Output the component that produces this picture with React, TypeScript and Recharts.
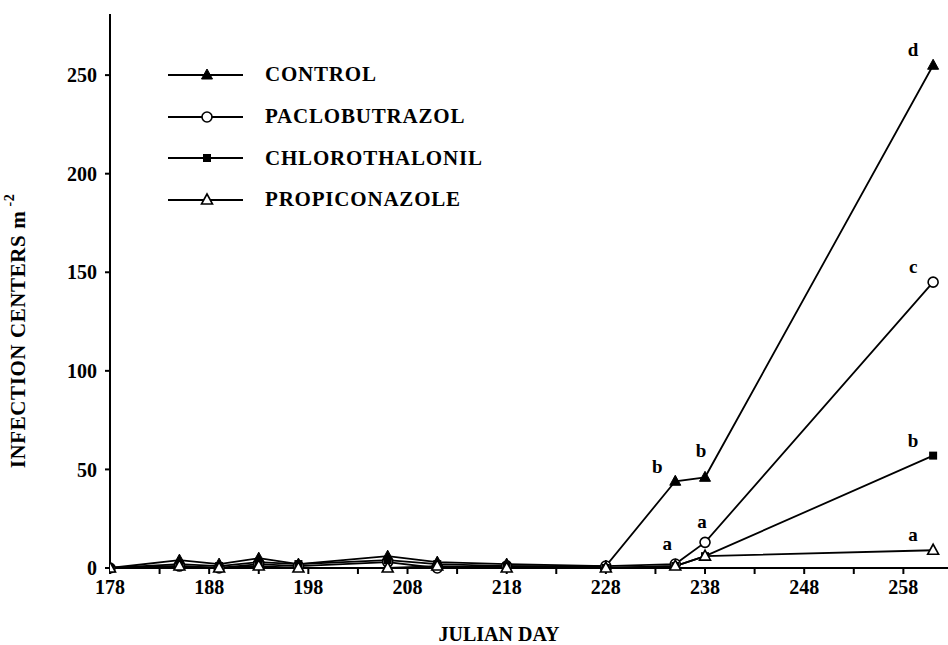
import React from "react";
import { Label, Line, LineChart, ReferenceDot, XAxis, YAxis } from "recharts";

const FONT = '"Liberation Serif", "Times New Roman", serif';

// sampling days (Julian) and infection centers per m2
const DAYS = [178, 185, 189, 193, 197, 206, 211, 218, 228, 235, 238, 261];
const CONTROL = [0, 4, 2, 5, 2, 6, 3, 2, 1, 44, 46, 255];
const PACLOBUTRAZOL = [0, 1, 0, 2, 1, 3, 0, 1, 1, 2, 13, 145];
const CHLOROTHALONIL = [0, 2, 1, 3, 2, 4, 2, 1, 0, 1, 6, 57];
const PROPICONAZOLE = [0, 1, 0, 1, 0, 0, 1, 0, 0, 1, 6, 9];

const X_TICKS = [178, 183, 188, 193, 198, 203, 208, 213, 218, 223, 228, 233, 238, 243, 248, 253, 258];
const Y_TICKS = [0, 50, 100, 150, 200, 250];

// mean separation letters
const LETTER_DAYS = [235, 238, 235, 238, 261, 261, 261, 261];
const LETTER_VALUES = [44, 46, 2, 13, 255, 145, 57, 9];
const LETTERS = ["b", "b", "a", "a", "d", "c", "b", "a"];
const LETTER_OFFSETS = [
  [-18, -14],
  [-4, -26],
  [-8, -20],
  [-3, -20],
  [-20, -15],
  [-20, -15],
  [-20, -15],
  [-20, -15],
];

const data = DAYS.map((day, i) => ({
  day,
  control: CONTROL[i],
  paclobutrazol: PACLOBUTRAZOL[i],
  chlorothalonil: CHLOROTHALONIL[i],
  propiconazole: PROPICONAZOLE[i],
}));

type Marker = "triFilled" | "circleOpen" | "square" | "triOpen";

function MarkerShape({ cx, cy, kind }: { cx: number; cy: number; kind: Marker }) {
  if (cx == null || cy == null) return null;
  if (kind === "circleOpen") {
    return <circle cx={cx} cy={cy} r={5} fill="#fff" stroke="#000" strokeWidth={1.6} />;
  }
  if (kind === "square") {
    return <rect x={cx - 4} y={cy - 4} width={8} height={8} fill="#000" />;
  }
  const pts = `${cx},${cy - 6} ${cx - 5.5},${cy + 4} ${cx + 5.5},${cy + 4}`;
  return kind === "triFilled" ? (
    <polygon points={pts} fill="#000" stroke="#000" strokeWidth={1} />
  ) : (
    <polygon points={pts} fill="#fff" stroke="#000" strokeWidth={1.6} />
  );
}

const SERIES: { key: string; name: string; marker: Marker }[] = [
  { key: "control", name: "CONTROL", marker: "triFilled" },
  { key: "paclobutrazol", name: "PACLOBUTRAZOL", marker: "circleOpen" },
  { key: "chlorothalonil", name: "CHLOROTHALONIL", marker: "square" },
  { key: "propiconazole", name: "PROPICONAZOLE", marker: "triOpen" },
];

function LegendBox() {
  return (
    <div
      style={{
        position: "absolute",
        left: 168,
        top: 54,
        fontFamily: FONT,
        fontWeight: "bold",
        fontSize: 21,
        letterSpacing: 0.8,
        lineHeight: 1,
      }}
    >
      {SERIES.map((s) => (
        <div key={s.key} style={{ display: "flex", alignItems: "center", height: 41.7 }}>
          <svg width={76} height={20} style={{ marginRight: 21 }}>
            <line x1={0} y1={10} x2={75} y2={10} stroke="#000" strokeWidth={1.8} />
            <MarkerShape cx={39} cy={10} kind={s.marker} />
          </svg>
          <span>{s.name}</span>
        </div>
      ))}
    </div>
  );
}

function YTitle(props: any) {
  const vb = props.viewBox || {};
  const x = 25;
  const y = vb.y + vb.height / 2 + 40;
  return (
    <text
      x={x}
      y={y}
      transform={`rotate(-90, ${x}, ${y})`}
      textAnchor="middle"
      fontFamily={FONT}
      fontWeight="bold"
      fontSize={21}
      letterSpacing={0.6}
      fill="#000"
    >
      INFECTION CENTERS m
      <tspan fontSize={14} dy={-11}>
        {" "}-2
      </tspan>
    </text>
  );
}

export default function App() {
  return (
    <div style={{ position: "fixed", left: 0, top: 0, width: 948, height: 645, background: "#fff" }}>
      <LineChart
        width={948}
        height={645}
        data={data}
        margin={{ top: 14, right: 0, bottom: 0, left: 0 }}
      >
        <XAxis
          xAxisId="top"
          orientation="top"
          type="number"
          dataKey="day"
          domain={[178, 262.5]}
          allowDataOverflow
          tick={false}
          tickLine={false}
          height={0}
          stroke="#000"
          strokeWidth={2}
        />
        <XAxis
          dataKey="day"
          type="number"
          domain={[178, 262.5]}
          allowDataOverflow
          ticks={X_TICKS}
          interval={0}
          height={77}
          stroke="#000"
          strokeWidth={2}
          tickSize={6}
          tickMargin={6}
          tickFormatter={(v: number) => ((v - 178) % 10 === 0 ? String(v) : "")}
          tick={{ fill: "#000", fontFamily: FONT, fontWeight: "bold", fontSize: 20 }}
        >
          <Label
            value="JULIAN DAY"
            position="insideBottom"
            offset={4}
            dx={-30}
            style={{ fontFamily: FONT, fontWeight: "bold", fontSize: 20, fill: "#000" }}
          />
        </XAxis>
        <YAxis
          type="number"
          domain={[0, 281]}
          ticks={Y_TICKS}
          interval={0}
          width={110}
          stroke="#000"
          strokeWidth={2}
          tickSize={5}
          tickMargin={8}
          tick={{ fill: "#000", fontFamily: FONT, fontWeight: "bold", fontSize: 20 }}
        >
          <Label content={<YTitle />} />
        </YAxis>
        {SERIES.map((s) => (
          <Line
            key={s.key}
            dataKey={s.key}
            name={s.name}
            type="linear"
            stroke="#000"
            strokeWidth={1.8}
            isAnimationActive={false}
            dot={(p: any) => <MarkerShape key={`${s.key}-${p.index}`} cx={p.cx} cy={p.cy} kind={s.marker} />}
            activeDot={false}
          />
        ))}
        {LETTERS.map((letter, i) => (
          <ReferenceDot
            key={`letter-${i}`}
            x={LETTER_DAYS[i]}
            y={LETTER_VALUES[i]}
            r={0}
            ifOverflow="visible"
            shape={(p: any) => (
              <text
                x={p.cx + LETTER_OFFSETS[i][0]}
                y={p.cy + LETTER_OFFSETS[i][1] + 6}
                textAnchor="middle"
                fontFamily={FONT}
                fontWeight="bold"
                fontSize={19}
                fill="#000"
              >
                {letter}
              </text>
            )}
          />
        ))}
      </LineChart>
      <LegendBox />
    </div>
  );
}
